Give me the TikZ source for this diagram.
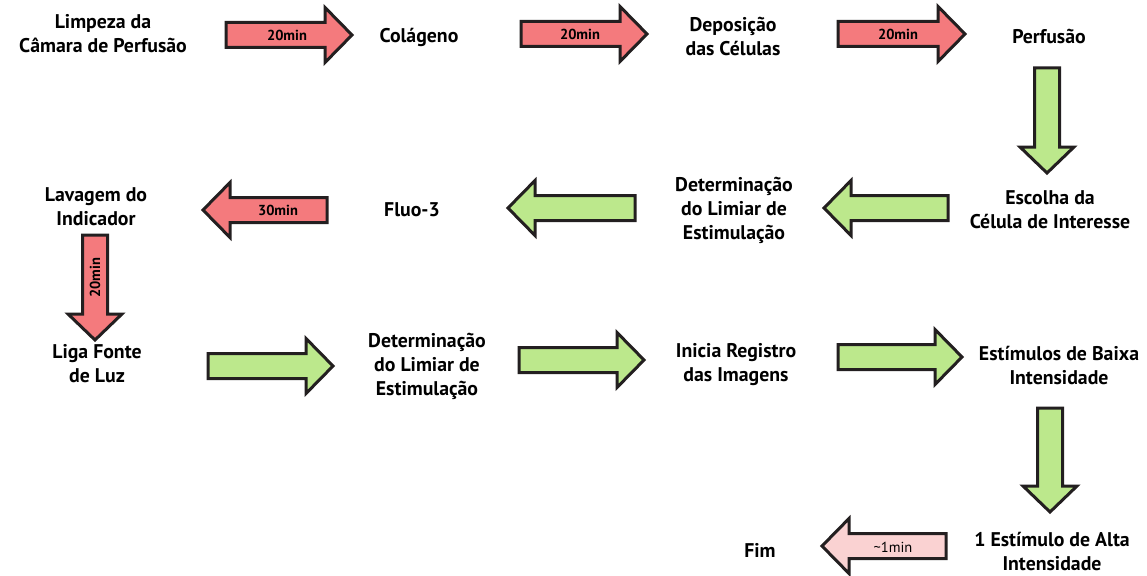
\documentclass[tikz,border=0pt]{standalone}
\usepackage{fontspec}
\setmainfont{PT Sans}
\definecolor{redf}{HTML}{F47A7D}
\definecolor{greenf}{HTML}{BCE88C}
\definecolor{pinkf}{HTML}{FAD2D2}
\definecolor{edge}{HTML}{231F20}
\tikzset{
  lbl/.style={font=\bfseries\fontsize{19.8}{24}\selectfont, align=center, inner sep=0pt, text=black},
  tlbl/.style={font=\bfseries\fontsize{14.5}{16}\selectfont, inner sep=0pt, text=black},
  tlblr/.style={font=\fontsize{14.5}{16}\selectfont, inner sep=0pt, text=black},
  arr/.style={draw=edge, line width=3pt, line join=miter, miter limit=10}
}
% horizontal arrow: tail x, tip x, centre y, fill
\newcommand{\harr}[4]{%
  \pgfmathsetmacro{\hd}{ifthenelse(#2>#1,-27,27)}%
  \filldraw[arr, fill=#4] (#1,#3-12.5) -- ({#2+\hd},#3-12.5) -- ({#2+\hd},#3-27.5) -- (#2,#3)
    -- ({#2+\hd},#3+27.5) -- ({#2+\hd},#3+12.5) -- (#1,#3+12.5) -- cycle;}
% vertical (down) arrow: centre x, top y, tip y, fill
\newcommand{\varr}[4]{%
  \filldraw[arr, fill=#4] (#1-12.5,#2) -- (#1-12.5,#3-26) -- (#1-27,#3-26) -- (#1,#3)
    -- (#1+27,#3-26) -- (#1+12.5,#3-26) -- (#1+12.5,#2) -- cycle;}
\begin{document}
\begin{tikzpicture}[x=1pt,y=-1pt]
\useasboundingbox (0,0) rectangle (1147,575);
% arrows
\harr{226}{352}{35}{redf}
\harr{521}{647}{34}{redf}
\harr{838}{965}{34}{redf}
\varr{1047}{68}{173}{greenf}
\harr{948}{824}{208}{greenf}
\harr{635}{508}{208}{greenf}
\harr{327}{203}{210}{redf}
\varr{95}{235}{340}{redf}
\harr{208}{333}{366}{greenf}
\harr{519}{644}{360}{greenf}
\harr{838}{962}{357}{greenf}
\varr{1050}{408}{512}{greenf}
\harr{946}{822}{546}{pinkf}
% arrow labels
\node[tlbl] (t1) at (287,35) {20min};
\node[tlbl] (t2) at (580,34) {20min};
\node[tlbl] (t3) at (898,34) {20min};
\node[tlbl] (t4) at (278,210) {30min};
\node[tlbl, rotate=90] (t5) at (95,278) {20min};
\node[tlblr] (t6) at (893,547) {\textasciitilde1min};
% step labels
\node[lbl] (n1) at (103,34) {Limpeza da\\Câmara de Perfusão};
\node[lbl] (n2) at (419,37) {Colágeno};
\node[lbl] (n3) at (733,36) {Deposição\\das Células};
\node[lbl] (n4) at (1049,36) {Perfusão};
\node[lbl] (n5) at (1050,210) {Escolha da\\Célula de Interesse};
\node[lbl] (n6) at (734,210) {Determinação\\do Limiar de\\Estimulação};
\node[lbl] (n7) at (412,210) {Fluo-3};
\node[lbl] (n8) at (96,207) {Lavagem do\\Indicador};
\node[lbl] (n9) at (97,364) {Liga Fonte\\de Luz};
\node[lbl] (n10) at (427,366) {Determinação\\do Limiar de\\Estimulação};
\node[lbl] (n11) at (736,365) {Inicia Registro\\das Imagens};
\node[lbl] (n12) at (1059,366) {Estímulos de Baixa\\Intensidade};
\node[lbl] (n13) at (1052,552) {1 Estímulo de Alta\\Intensidade};
\node[lbl] (n14) at (760,550) {Fim};
\end{tikzpicture}
\end{document}
